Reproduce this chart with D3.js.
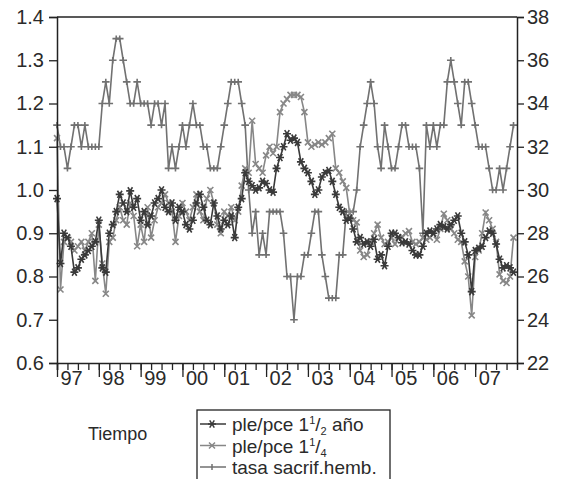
<!DOCTYPE html>
<html>
<head>
<meta charset="utf-8">
<script src="https://cdn.jsdelivr.net/npm/d3@7"></script>
<style>
  body { margin: 0; background: #fff; }
  svg text { font-family: "Liberation Sans", Arial, Helvetica, sans-serif; fill: #2a2a2a; }
</style>
</head>
<body>
<div id="chart"></div>
<script>
// monthly series, Jan 1997 .. Dec 2007
var startYear = 1997;

// ple/pce 1 1/2 año (left axis)
var ple15 = [0.98, 0.83, 0.90, 0.89, 0.87, 0.81, 0.82, 0.84, 0.85, 0.86, 0.87, 0.88,
  0.93, 0.82, 0.81, 0.90, 0.92, 0.95, 0.99, 0.97, 0.95, 0.998, 0.96, 0.98,
  0.93, 0.95, 0.92, 0.94, 0.97, 0.98, 1.00, 0.96, 0.95, 0.97, 0.93, 0.96,
  0.95, 0.92, 0.91, 0.93, 0.97, 0.99, 0.96, 0.93, 0.92, 0.97, 0.94, 0.91,
  0.93, 0.92, 0.94, 0.89, 0.96, 0.98, 1.04, 1.02, 1.01, 1.00, 1.005, 1.02,
  1.015, 1.00, 0.995, 1.05, 1.075, 1.10, 1.13, 1.115, 1.12, 1.11, 1.065, 1.05,
  1.04, 1.02, 0.99, 1.00, 1.03, 1.04, 1.045, 1.02, 0.99, 0.96, 0.95, 0.93,
  0.935, 0.91, 0.88, 0.89, 0.875, 0.88, 0.87, 0.886, 0.84, 0.85, 0.825, 0.87,
  0.90, 0.90, 0.89, 0.878, 0.88, 0.875, 0.86, 0.85, 0.85, 0.87, 0.90, 0.905,
  0.90, 0.91, 0.92, 0.915, 0.91, 0.92, 0.93, 0.94, 0.90, 0.88, 0.85, 0.765,
  0.86, 0.865, 0.87, 0.89, 0.905, 0.90, 0.875, 0.84, 0.82, 0.825, 0.82, 0.81];

// ple/pce 1 1/4 (left axis)
var ple14 = [1.12, 0.77, 0.88, 0.89, 0.88, 0.86, 0.87, 0.88, 0.86, 0.88, 0.90, 0.79,
  0.92, 0.83, 0.76, 0.88, 0.89, 0.93, 0.96, 0.93, 0.92, 0.97, 0.94, 0.87,
  0.92, 0.88, 0.96, 0.89, 0.93, 0.96, 0.97, 0.99, 0.97, 0.95, 0.88, 0.94,
  0.97, 0.95, 0.93, 0.96, 0.99, 0.95, 0.93, 0.98, 1.00, 0.97, 0.92, 0.90,
  0.95, 0.94, 0.96, 0.93, 0.95, 1.01, 1.05, 1.04, 1.16, 1.06, 1.05, 1.04,
  1.08, 1.10, 1.085, 1.10, 1.18, 1.20, 1.21, 1.22, 1.22, 1.22, 1.215, 1.18,
  1.11, 1.10, 1.105, 1.11, 1.105, 1.11, 1.12, 1.13, 1.05, 1.04, 1.02, 1.005,
  0.945, 0.93, 0.925, 0.86, 0.845, 0.85, 0.88, 0.90, 0.92, 0.89, 0.875, 0.88,
  0.89, 0.875, 0.89, 0.89, 0.90, 0.905, 0.88, 0.875, 0.88, 0.89, 0.885, 0.89,
  0.90, 0.885, 0.91, 0.945, 0.93, 0.91, 0.90, 0.885, 0.88, 0.835, 0.80, 0.71,
  0.845, 0.86, 0.90, 0.948, 0.93, 0.91, 0.88, 0.805, 0.79, 0.785, 0.80, 0.89];

// tasa sacrif.hemb. (right axis)
var tasa = [33, 32, 32, 31, 32, 33, 33, 32, 33, 32, 32, 32,
  32, 34, 35, 34, 36, 37, 37, 36, 35, 34, 34, 35,
  34, 34, 34, 33, 34, 34, 33, 34, 31, 32, 31, 32,
  33, 32, 33, 34, 33, 33, 32, 32, 31, 31, 31, 32,
  33, 34, 35, 35, 35, 34, 33, 30, 28, 29, 27, 28,
  27, 29, 29, 29, 29, 28, 26, 26, 24, 26, 26, 27,
  27, 28, 29, 29, 27, 26, 25, 25, 25, 27, 27, 29,
  29, 29, 30, 32, 33, 34, 35, 34, 32, 31, 33, 32,
  31, 31, 32, 33, 33, 32, 32, 32, 31, 28, 33, 32,
  33, 32, 33, 33, 35, 36, 35, 34, 33, 35, 35, 34,
  33, 32, 32, 32, 31, 30, 30, 31, 30, 31, 32, 33];

var leftTicks = [0.6, 0.7, 0.8, 0.9, 1.0, 1.1, 1.2, 1.3, 1.4];
var rightTicks = [22, 24, 26, 28, 30, 32, 34, 36, 38];
var yearLabels = ["97", "98", "99", "00", "01", "02", "03", "04", "05", "06", "07"];

var margin = {top: 17, right: 44, bottom: 116, left: 57};
var width = 561 - margin.left - margin.right;
var height = 479 - margin.top - margin.bottom;

var svg = d3.select("#chart").append("svg")
    .attr("width", 561)
    .attr("height", 479);

var g = svg.append("g")
    .attr("transform", "translate(" + margin.left + "," + margin.top + ")");

var x = d3.scaleLinear().domain([startYear, startYear + yearLabels.length]).range([0, width]);
var yL = d3.scaleLinear().domain([0.6, 1.4]).range([height, 0]);
var yR = d3.scaleLinear().domain([22, 38]).range([height, 0]);

function monthX(i) { return x(startYear + i / 12); }

// top border
g.append("line").attr("x1", 0).attr("x2", width).attr("y1", 0).attr("y2", 0)
    .attr("stroke", "#222").attr("stroke-width", 1.5);

// marker shapes
var markAst = "M-4,0H4M-2.3,-3.6L2.3,3.6M2.3,-3.6L-2.3,3.6";
var markX = "M-3,-3L3,3M3,-3L-3,3";
var markPlus = "M-3.8,0H3.8M0,-3.2V3.2";

var series = [
  {name: "tasa", values: tasa, y: yR, color: "#717171", mark: markPlus},
  {name: "ple14", values: ple14, y: yL, color: "#878787", mark: markX},
  {name: "ple15", values: ple15, y: yL, color: "#3a3a3a", mark: markAst}
];

series.forEach(function (s) {
  var line = d3.line()
      .x(function (d, i) { return monthX(i); })
      .y(function (d) { return s.y(d); });

  g.append("path")
      .datum(s.values)
      .attr("fill", "none")
      .attr("stroke", s.color)
      .attr("stroke-width", 1.6)
      .attr("d", line);

  g.append("g").selectAll("path")
      .data(s.values)
      .enter()
    .append("path")
      .attr("transform", function (d, i) { return "translate(" + monthX(i) + "," + s.y(d) + ")"; })
      .attr("d", s.mark)
      .attr("fill", "none")
      .attr("stroke", s.color)
      .attr("stroke-width", 1.6);
});

// axes
var leftAxis = g.append("g")
    .call(d3.axisLeft(yL).tickValues(leftTicks).tickSize(8).tickPadding(5)
      .tickFormat(d3.format(".1f")));

var rightAxis = g.append("g")
    .attr("transform", "translate(" + width + ",0)")
    .call(d3.axisRight(yR).tickValues(rightTicks).tickSize(7).tickPadding(3));

var quarters = d3.range(0, yearLabels.length * 4).map(function (q) { return startYear + q / 4; });
var minorAxis = g.append("g")
    .attr("transform", "translate(0," + height + ")")
    .call(d3.axisBottom(x).tickValues(quarters).tickSize(7).tickFormat(""));

var years = yearLabels.map(function (l, i) { return startYear + i; });
var majorAxis = g.append("g")
    .attr("transform", "translate(0," + height + ")")
    .call(d3.axisBottom(x).tickValues(years).tickSize(14)
      .tickFormat(function (d, i) { return yearLabels[i]; }));

majorAxis.selectAll(".tick text")
    .attr("text-anchor", "start")
    .attr("x", 3)
    .attr("y", 8)
    .attr("dy", "0.71em");

[leftAxis, rightAxis, minorAxis, majorAxis].forEach(function (a) {
  a.selectAll(".domain").attr("stroke", "#222").attr("stroke-width", 1.5);
  a.selectAll(".tick line").attr("stroke", "#222").attr("stroke-width", 1.3);
  a.selectAll("text").style("font-size", "20px").attr("fill", "#2a2a2a");
});
majorAxis.select(".domain").remove();

// axis title
svg.append("text")
    .attr("x", 88)
    .attr("y", 440)
    .style("font-size", "18px")
    .text("Tiempo");

// legend
var legend = svg.append("g").attr("transform", "translate(197,410)");
legend.append("rect")
    .attr("width", 193)
    .attr("height", 90)
    .attr("fill", "#fff")
    .attr("stroke", "#222")
    .attr("stroke-width", 1.3);

var legendRows = [
  {color: "#3a3a3a", mark: markAst, parts: ["ple/pce 1", "1", "/", "2", " año"]},
  {color: "#878787", mark: markX, parts: ["ple/pce 1", "1", "/", "4", ""]},
  {color: "#717171", mark: "M0,-3V3", parts: ["tasa sacrif.hemb."]}
];

legendRows.forEach(function (r, i) {
  var row = legend.append("g").attr("transform", "translate(0," + (14 + i * 21.5) + ")");
  row.append("line")
      .attr("x1", 3).attr("x2", 29)
      .attr("stroke", r.color).attr("stroke-width", 1.5);
  row.append("path")
      .attr("transform", "translate(15,0)")
      .attr("d", r.mark)
      .attr("fill", "none")
      .attr("stroke", r.color)
      .attr("stroke-width", 1.5);
  var t = row.append("text")
      .attr("x", 35)
      .attr("y", 7)
      .style("font-size", "19px");
  if (r.parts.length === 1) {
    t.text(r.parts[0]);
  } else {
    t.append("tspan").text(r.parts[0]);
    t.append("tspan").attr("dy", -7).style("font-size", "11px").text(r.parts[1]);
    t.append("tspan").attr("dy", 7).text(r.parts[2]);
    t.append("tspan").attr("dy", 4).style("font-size", "11px").text(r.parts[3]);
    t.append("tspan").attr("dy", -4).text(r.parts[4]);
  }
});
</script>
</body>
</html>
